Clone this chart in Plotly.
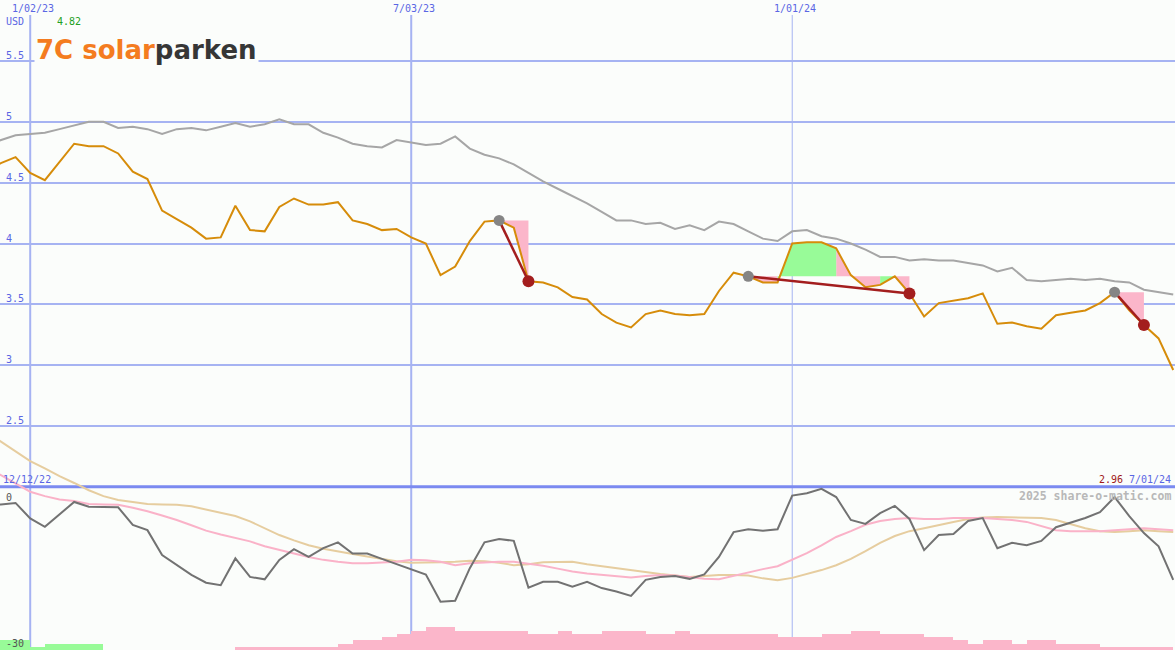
import pandas as pd
import plotly.graph_objects as go

# ---------------- data ----------------
start_date = "2022-12-12"
n_weeks = 82
dates = pd.date_range(start_date, periods=n_weeks, freq="7D")

price = [4.60, 4.66, 4.71, 4.58, 4.52, 4.67, 4.82, 4.80, 4.80, 4.74,
         4.59, 4.53, 4.27, 4.20, 4.13, 4.04, 4.05, 4.31, 4.11, 4.10,
         4.30, 4.37, 4.32, 4.32, 4.34, 4.19, 4.16, 4.11, 4.12, 4.05,
         4.00, 3.74, 3.81, 4.02, 4.18, 4.19, 4.13, 3.69, 3.68, 3.64,
         3.56, 3.54, 3.42, 3.35, 3.31, 3.42, 3.45, 3.42, 3.41, 3.42,
         3.61, 3.76, 3.73, 3.68, 3.68, 4.00, 4.01, 4.01, 3.96, 3.74,
         3.64, 3.66, 3.73, 3.59, 3.40, 3.51, 3.53, 3.55, 3.59, 3.34,
         3.35, 3.32, 3.30, 3.41, 3.43, 3.45, 3.51, 3.60, 3.45, 3.33,
         3.22, 2.96]

moving_avg = [4.81, 4.85, 4.89, 4.90, 4.91, 4.94, 4.97, 5.00, 5.00, 4.95,
              4.96, 4.94, 4.90, 4.94, 4.95, 4.93, 4.96, 4.99, 4.96, 4.98,
              5.02, 4.98, 4.98, 4.91, 4.87, 4.82, 4.80, 4.79, 4.85, 4.83,
              4.81, 4.82, 4.88, 4.78, 4.73, 4.70, 4.65, 4.58, 4.51, 4.45,
              4.39, 4.33, 4.26, 4.19, 4.19, 4.16, 4.17, 4.12, 4.15, 4.11,
              4.18, 4.16, 4.10, 4.04, 4.02, 4.10, 4.11, 4.06, 4.04, 4.00,
              3.95, 3.89, 3.89, 3.86, 3.87, 3.86, 3.86, 3.84, 3.82, 3.77,
              3.80, 3.70, 3.69, 3.70, 3.71, 3.70, 3.71, 3.69, 3.68, 3.62,
              3.60, 3.58]

oscillator = [-1.0, -0.9, -0.6, -3.8, -5.5, -2.9, -0.4, -1.4, -1.4, -1.5,
              -5.1, -6.2, -11.3, -13.4, -15.4, -17.0, -17.5, -12.0, -15.8, -16.3,
              -12.3, -10.1, -11.7, -9.9, -8.7, -11.0, -11.0, -12.1, -13.2, -14.2,
              -15.3, -20.9, -20.7, -14.0, -8.7, -8.0, -8.4, -18.0, -16.8, -16.8,
              -17.8, -16.8, -18.1, -18.8, -19.7, -16.4, -15.8, -15.6, -16.2, -15.3,
              -11.7, -6.6, -6.0, -6.3, -6.0, 0.9, 1.4, 2.3, 0.6, -4.1,
              -4.9, -2.7, -1.2, -3.9, -10.3, -7.2, -7.0, -4.3, -3.7, -9.9,
              -8.8, -9.3, -8.4, -5.6, -4.7, -3.7, -2.5, 0.6, -3.3, -6.8,
              -9.5, -16.4]

osc_fast = [6.8, 5.1, 3.4, 1.7, 0.8, 0.1, -0.2, -0.8, -0.9, -1.0,
            -1.6, -2.3, -3.2, -4.1, -5.2, -6.3, -7.1, -7.8, -8.5, -9.5,
            -10.3, -11.0, -11.7, -12.3, -12.7, -13.0, -13.0, -12.9, -12.7, -12.3,
            -12.4, -12.7, -13.4, -13.0, -12.8, -12.7, -12.7, -13.1, -13.5, -14.1,
            -14.7, -15.1, -15.4, -15.7, -15.9, -15.6, -15.4, -15.5, -15.8, -16.2,
            -16.3, -15.6, -14.8, -14.2, -13.6, -12.3, -10.9, -9.3, -7.6, -6.4,
            -5.1, -4.3, -3.9, -3.7, -3.9, -3.9, -3.7, -3.7, -3.7, -3.9,
            -4.1, -4.5, -5.3, -6.2, -6.4, -6.4, -6.4, -6.2, -6.0, -5.8,
            -6.0, -6.2]

osc_slow = [14.0, 12.0, 9.9, 8.0, 6.5, 4.9, 3.5, 2.0, 0.8, 0.0,
            -0.4, -0.8, -0.9, -1.0, -1.3, -2.0, -2.7, -3.3, -4.4, -5.8,
            -7.2, -8.3, -9.3, -10.0, -10.6, -11.1, -11.6, -12.1, -12.6, -12.9,
            -12.9, -12.8, -12.7, -12.5, -12.6, -12.9, -13.4, -13.2, -12.8, -12.7,
            -12.7, -13.2, -13.6, -14.1, -14.5, -14.9, -15.2, -15.5, -15.8, -15.6,
            -15.4, -15.4, -15.5, -16.1, -16.5, -16.0, -15.2, -14.4, -13.4, -12.1,
            -10.5, -8.8, -7.4, -6.4, -5.8, -5.1, -4.5, -3.9, -3.6, -3.5,
            -3.6, -3.6, -3.7, -4.1, -4.9, -5.8, -6.4, -6.6, -6.4, -6.2,
            -6.4, -6.6]

# weekly histogram (positive = green, negative = pink), one per week interval
histogram = [3, 3, 3, 1, 2, 2, 2, 2, 0, 0,
             0, 0, 0, 0, 0, 0, 0, -1, -1, -1,
             -1, -1, -1, -1, -2, -3, -3, -4, -5, -6,
             -7, -7, -6, -6, -6, -6, -6, -5, -5, -6,
             -5, -5, -6, -6, -6, -5, -5, -6, -5, -5,
             -5, -5, -5, -5, -4, -4, -4, -5, -5, -6,
             -6, -5, -5, -5, -4, -4, -3, -2, -3, -3,
             -2, -3, -3, -2, -2, -2, -1, -1, -1, -1,
             -1]

signal_start = [35, 52, 77]
signal_end = [37, 63, 79]
signal_fill = [["down", "down"],
               ["down", "down", "up", "up", "up", "up", "down", "down", "down", "up", "down"],
               ["down", "down"]]

grid_dates = ["2023-01-02", "2023-07-03", "2024-01-01"]
grid_labels = ["1/02/23", "7/03/23", "1/01/24"]
grid_widths = [2, 2, 1]
price_ticks = [2.5, 3, 3.5, 4, 4.5, 5, 5.5]
price_tick_labels = ["2.5", "3", "3.5", "4", "4.5", "5", "5.5"]
osc_ticks = [0, -30]
osc_tick_labels = ["0", "-30"]

# ---------------- styling ----------------
W, H = 1175, 650
BG = "#fbfdfb"
BLUE_TXT = "#5a66e4"
GRID = "#a6b3f2"
ORANGE = "#d68c0a"
GRAYLINE = "#a6a6a6"
DARKRED = "#a31e1e"
PINK = "#fbb6ca"
GREEN = "#98fb98"
MONO = "DejaVu Sans Mono"

week = pd.Timedelta(days=7)
t0 = dates[0]
px_per_week = 14.654
x_off = 13.75  # pixels left of the canvas where the first week lies
x_left = t0 + week * (x_off / px_per_week)
x_right = t0 + week * ((W + x_off) / px_per_week)

# price axis: 5.5 at pixel 61, 121.67 px per unit
ppu = 121.67
p_top = 5.5 + 61 / ppu
p_bot = 5.5 - (H - 61) / ppu
# oscillator axis: 0 at pixel 500, 4.867 px per unit
opu = 4.867
o_top = 500 / opu
o_bot = -(H - 500) / opu

fig = go.Figure()

# fills for signals
fill_x = {"up": [], "down": []}
fill_y = {"up": [], "down": []}
for s, e, cols in zip(signal_start, signal_end, signal_fill):
    base = price[s]
    for k, c in enumerate(cols):
        i = s + k
        fill_x[c] += [dates[i], dates[i], dates[i + 1], dates[i + 1], None]
        fill_y[c] += [base, price[i], price[i + 1], base, None]
for c, col in (("down", PINK), ("up", GREEN)):
    fig.add_trace(go.Scatter(x=fill_x[c], y=fill_y[c], fill="toself", fillcolor=col,
                             mode="lines", line=dict(width=0), hoverinfo="skip",
                             showlegend=False))

# histogram bars
bar_x = [d + pd.Timedelta(hours=84) for d in dates[:-1]]
fig.add_trace(go.Bar(x=bar_x, y=[abs(v) for v in histogram],
                     marker=dict(color=[GREEN if v > 0 else PINK for v in histogram],
                                 line=dict(width=0)),
                     width=7 * 24 * 3600 * 1000, yaxis="y3", showlegend=False))

# oscillator lines
fig.add_trace(go.Scatter(x=dates, y=osc_slow, mode="lines", yaxis="y2",
                         line=dict(color="#e6cd9f", width=2), showlegend=False))
fig.add_trace(go.Scatter(x=dates, y=osc_fast, mode="lines", yaxis="y2",
                         line=dict(color="#fab2c8", width=2), showlegend=False))
fig.add_trace(go.Scatter(x=dates, y=oscillator, mode="lines", yaxis="y2",
                         line=dict(color="#727272", width=2), showlegend=False))

# price lines
fig.add_trace(go.Scatter(x=dates, y=moving_avg, mode="lines",
                         line=dict(color=GRAYLINE, width=2), showlegend=False))
fig.add_trace(go.Scatter(x=dates, y=price, mode="lines",
                         line=dict(color=ORANGE, width=2), showlegend=False))

# signal lines and dots
sx, sy = [], []
for s, e in zip(signal_start, signal_end):
    sx += [dates[s], dates[e], None]
    sy += [price[s], price[e], None]
fig.add_trace(go.Scatter(x=sx, y=sy, mode="lines", line=dict(color=DARKRED, width=2.5),
                         showlegend=False))
fig.add_trace(go.Scatter(x=[dates[s] for s in signal_start], y=[price[s] for s in signal_start],
                         mode="markers", marker=dict(color="#858585", size=11),
                         showlegend=False))
fig.add_trace(go.Scatter(x=[dates[e] for e in signal_end], y=[price[e] for e in signal_end],
                         mode="markers", marker=dict(color=DARKRED, size=12),
                         showlegend=False))

shapes = []
for d, w in zip(grid_dates, grid_widths):
    shapes.append(dict(type="line", xref="x", yref="paper", x0=d, x1=d,
                       y0=0, y1=1 - 15 / H, line=dict(color=GRID, width=w), layer="below"))
shapes.append(dict(type="line", xref="paper", yref="y", x0=0, x1=1, y0=2.0, y1=2.0,
                   line=dict(color="#7b8af0", width=3), layer="below"))

ann = []
def txt(text, px, py, color, anchor="left", size=10, bold=False, font=MONO):
    ann.append(dict(text=("<b>%s</b>" % text) if bold else text, xref="paper", yref="paper",
                    x=px / W, y=1 - py / H, xanchor=anchor, yanchor="middle",
                    showarrow=False, font=dict(family=font, size=size, color=color)))

for d, lab in zip(grid_dates, grid_labels):
    ann.append(dict(text=lab, xref="x", yref="paper", x=d, y=1 - 9 / H, xanchor="center",
                    yanchor="middle", xshift=3, showarrow=False,
                    font=dict(family=MONO, size=10, color=BLUE_TXT)))
for v, lab in zip(price_ticks, price_tick_labels):
    ann.append(dict(text=lab, xref="paper", yref="y", x=4 / W, y=v, xanchor="left",
                    yanchor="bottom", yshift=-2, showarrow=False,
                    font=dict(family=MONO, size=10, color=BLUE_TXT)))
for v, lab in zip(osc_ticks, osc_tick_labels):
    ann.append(dict(text=lab, xref="paper", yref="y2", x=4 / W, y=v, xanchor="left",
                    yanchor="top", yshift=10, showarrow=False,
                    font=dict(family=MONO, size=10, color="#555555")))

txt("USD", 4, 21.5, BLUE_TXT)
txt("%.2f" % max(price), 68.5, 21.5, "#22a022", anchor="center")
txt(dates[0].strftime("%-m/%d/%y"), 1, 479, BLUE_TXT)
txt("%.2f" % price[-1], 1098 - 1, 479, "#a01818")
txt(dates[-1].strftime("%-m/%d/%y"), 1173, 479, BLUE_TXT, anchor="right")
txt("2025 share-o-matic.com", 1173, 496, "#b8b8b8", anchor="right", size=11.5, bold=True)

ann.append(dict(text="<b><span style='color:#f47c20'>7C solar</span>"
                     "<span style='color:#363636'>parken</span></b>",
                xref="paper", yref="paper", x=34 / W, y=1 - 50 / H, xanchor="left",
                yanchor="middle", showarrow=False, bgcolor=BG, borderpad=1,
                font=dict(family="DejaVu Sans", size=26)))

fig.update_layout(
    width=W, height=H, margin=dict(l=0, r=0, t=0, b=0),
    paper_bgcolor=BG, plot_bgcolor=BG, showlegend=False, hovermode=False,
    xaxis=dict(type="date", range=[x_left, x_right], showgrid=False, zeroline=False,
               showticklabels=False, showline=False),
    yaxis=dict(range=[p_bot, p_top], tickvals=price_ticks, showticklabels=False,
               showgrid=True, gridcolor=GRID, gridwidth=2, zeroline=False, showline=False),
    yaxis2=dict(range=[o_bot, o_top], overlaying="y", visible=False),
    yaxis3=dict(range=[0, H / 3.25], overlaying="y", visible=False),
    shapes=shapes, annotations=ann, bargap=0,
)

fig.write_html("out.html", config={"displayModeBar": False},
               post_script="document.body.style.margin='0';document.body.style.background='%s';" % BG)
